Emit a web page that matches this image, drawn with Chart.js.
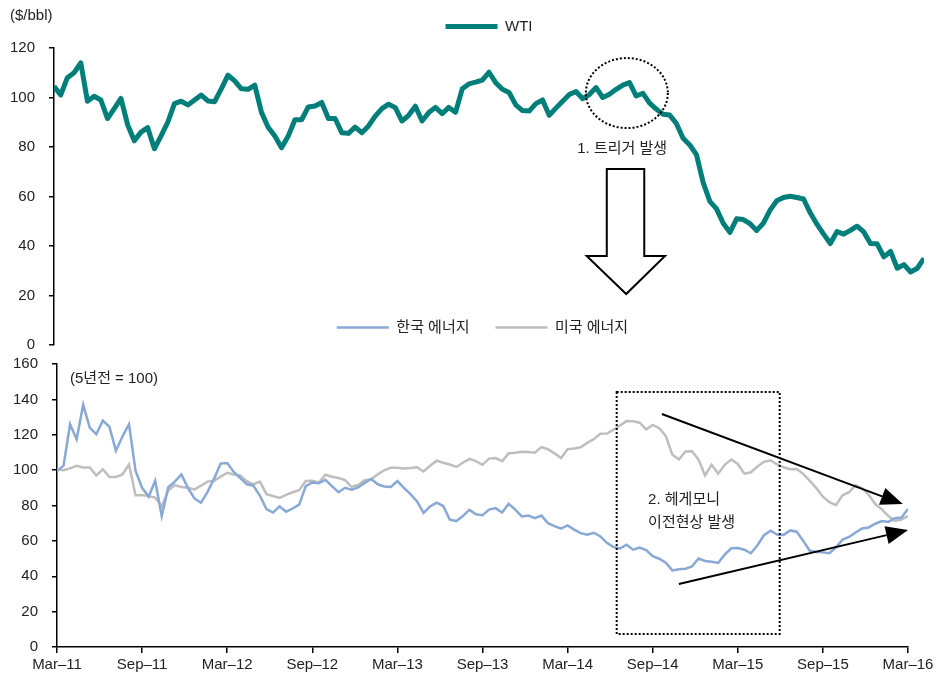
<!DOCTYPE html>
<html>
<head>
<meta charset="utf-8">
<script src="https://cdn.jsdelivr.net/npm/chart.js@4.4.1/dist/chart.umd.min.js"></script>
<style>
    html, body { margin: 0; padding: 0; background: #fff; overflow: hidden; }
    #wrap { position: relative; width: 948px; height: 673px; overflow: hidden; }
    .box { position: absolute; left: 0; width: 948px; }
    #top { top: 0; height: 368px; }
    #bottom { top: 294px; height: 384px; }
</style>
</head>
<body>
<div id="wrap">
    <div class="box" id="top"><canvas id="wtiChart"></canvas></div>
    <div class="box" id="bottom"><canvas id="energyChart"></canvas></div>
</div>
<script>
// half-year tick labels, one every 13 points (bi-weekly data, Mar-11 .. Mar-16)
const dateLabels = ['Mar–11', 'Sep–11', 'Mar–12', 'Sep–12', 'Mar–13', 'Sep–13',
                    'Mar–14', 'Sep–14', 'Mar–15', 'Sep–15', 'Mar–16'];
const stepPerLabel = 13;

const wti = [
    104.5, 101, 108, 110, 114, 98.5, 100.5, 99, 91.5, 95.5,
    99.6, 89, 82.5, 86, 87.8, 79.3, 84.5, 90, 97.5, 98.5,
    97, 99, 101, 98.6, 98.3, 103.5, 109, 106.7, 103.5, 103.3,
    105, 94, 88, 84.4, 79.7, 84.4, 91, 91, 96.2, 96.6,
    98, 91.5, 91.5, 85.8, 85.5, 88, 85.8, 88.5, 92.5, 95.5,
    97.3, 95.9, 90.5, 92.8, 96.5, 90.5, 93.9, 96, 93.5, 96,
    94, 103.5, 105.5, 106.2, 107, 110.2, 106, 103.3, 102, 97,
    94.7, 94.5, 97.5, 99, 92.8, 95.7, 98.5, 101.2, 102.4, 99.5,
    101.2, 104, 100, 101.3, 103.3, 105, 106, 100.6, 101.7, 97.7,
    95.3, 93.2, 92.9, 89.5, 83.5, 80.8, 76.9, 65.6, 58, 55,
    49.2, 45.5, 51, 50.7, 49, 46.3, 49.2, 54.5, 58.3, 59.6,
    60.1, 59.6, 59, 53.4, 48.8, 44.8, 41, 45.8, 44.8, 46.3,
    48, 45.7, 41, 40.9, 35.6, 37.8, 31, 32.5, 29.5, 31, 35
];

const koreaEnergy = [
    99.5, 102.5, 126, 117.5, 137, 124, 120.3, 128, 124.5, 111,
    119, 126, 99.5, 90, 85, 94, 74, 90.3, 93.5, 97.6,
    90, 84, 81.5, 87.7, 95.2, 103.7, 104, 99, 95.5, 92,
    91.3, 85.5, 78, 76, 79.5, 76.5, 78.3, 80.5, 91, 93,
    92.6, 94.5, 91, 87.5, 90, 88.9, 90.2, 92.8, 95, 92,
    90.8, 90.5, 93.8, 90, 86.4, 82.3, 75.8, 79.5, 81.6, 79.7,
    72, 71.2, 74, 77.5, 75, 74.5, 77.7, 78.5, 76, 81,
    77.7, 73.8, 74.3, 72.8, 74.3, 70, 68.3, 66.9, 68.7, 66.4,
    64.4, 63.5, 64.6, 62.5, 58.9, 56.5, 55.7, 57.8, 55, 56.2,
    54.8, 51.3, 49.9, 47.7, 43.3, 44, 44.3, 45.5, 50, 48.6,
    48.2, 47.5, 52.2, 55.8, 56, 55, 53, 57.5, 63.2, 65.8,
    63.6, 63.4, 65.9, 65.2, 60, 54.4, 53.7, 53.5, 53, 56.3,
    60.7, 62.2, 64.7, 67, 67.6, 69.7, 71.2, 70.7, 72.8, 73.2, 78
];

const usEnergy = [
    100.5, 99.9, 101, 102.5, 101.5, 101.5, 97, 100.5, 96.1, 96.1,
    97.6, 103.2, 85.8, 85.8, 85.3, 84.5, 79.5, 88.6, 91.5, 90.5,
    90, 89.1, 91.2, 93.5, 94, 96.3, 98.5, 97.5, 97, 93.8,
    92, 93.5, 86.4, 85.4, 84.3, 86, 87.5, 88.6, 93.9, 94,
    93, 97.4, 96.3, 95.5, 94.4, 90.6, 91.6, 94.3, 94.8, 97.6,
    99.9, 101.4, 101.4, 100.9, 101.2, 101.6, 99.2, 102.5, 105.3, 104.2,
    103.2, 101.8, 104.2, 106.4, 105.1, 103, 106.5, 106.8, 105.1, 109.5,
    109.8, 110.4, 110.2, 109.8, 113, 111.8, 109.5, 106.9, 111.8, 112.2,
    112.9, 115.4, 117.5, 120.6, 120.7, 122.8, 125.2, 127.7, 127.6, 126.8,
    123.1, 125.6, 123.7, 119.3, 108.8, 106, 110.5, 110.7, 106, 97,
    103, 98, 103, 106, 103.5, 98, 98.8, 102, 104.7, 105.6,
    103.2, 101.6, 100.5, 100.6, 97.9, 93.9, 89.8, 85, 81.9, 80.2,
    85.8, 87.5, 91.5, 89.8, 86, 80.8, 77.8, 74, 71.3, 72, 74
];

const FONT = "'Liberation Sans', 'Noto Sans CJK KR', sans-serif";
Chart.defaults.font.family = FONT;
Chart.defaults.font.size = 15;
Chart.defaults.color = '#222';

const toPoints = arr => arr.map((v, i) => ({ x: i, y: v }));

// extra room under the legend
const legendGap = gap => ({
    id: 'legendGap',
    beforeInit(chart) {
        const fit = chart.legend.fit;
        chart.legend.fit = function () {
            fit.call(this);
            this.height += gap;
        };
    }
});

function dotted(ctx) {
    ctx.lineWidth = 2;
    ctx.strokeStyle = '#000';
    ctx.setLineDash([2, 2]);
}

function drawArrow(ctx, x1, y1, x2, y2) {
    const ang = Math.atan2(y2 - y1, x2 - x1);
    const len = 22, half = 9;
    const bx = x2 - Math.cos(ang) * len, by = y2 - Math.sin(ang) * len;
    ctx.setLineDash([]);
    ctx.lineWidth = 2;
    ctx.strokeStyle = '#000';
    ctx.beginPath();
    ctx.moveTo(x1, y1);
    ctx.lineTo(bx, by);
    ctx.stroke();
    ctx.fillStyle = '#000';
    ctx.beginPath();
    ctx.moveTo(x2, y2);
    ctx.lineTo(bx + Math.sin(ang) * half, by - Math.cos(ang) * half);
    ctx.lineTo(bx - Math.sin(ang) * half, by + Math.cos(ang) * half);
    ctx.closePath();
    ctx.fill();
}

const triggerNote = {
    id: 'triggerNote',
    afterDraw(chart) {
        const { ctx, scales: { x, y } } = chart;
        ctx.save();
        ctx.font = '15px ' + FONT;
        ctx.fillStyle = '#222';
        ctx.textBaseline = 'middle';
        ctx.textAlign = 'left';
        ctx.fillText('($/bbl)', 10, 16);

        // dotted circle round the peak
        dotted(ctx);
        ctx.beginPath();
        ctx.ellipse(x.getPixelForValue(85.6), y.getPixelForValue(101.8), 41, 35, 0, 0, Math.PI * 2);
        ctx.stroke();

        ctx.textAlign = 'center';
        ctx.fillText('1. 트리거 발생', x.getPixelForValue(84.9), y.getPixelForValue(79.2));

        // hollow block arrow
        const sl = x.getPixelForValue(82.6), sr = x.getPixelForValue(88.2);
        const hl = x.getPixelForValue(79.6), hr = x.getPixelForValue(91.3);
        const tx = x.getPixelForValue(85.5);
        const top = y.getPixelForValue(71.1), hy = y.getPixelForValue(36), tip = y.getPixelForValue(20.6);
        ctx.setLineDash([]);
        ctx.lineWidth = 2;
        ctx.fillStyle = '#fff';
        ctx.beginPath();
        ctx.moveTo(sl, top);
        ctx.lineTo(sr, top);
        ctx.lineTo(sr, hy);
        ctx.lineTo(hr, hy);
        ctx.lineTo(tx, tip);
        ctx.lineTo(hl, hy);
        ctx.lineTo(sl, hy);
        ctx.closePath();
        ctx.fill();
        ctx.stroke();
        ctx.restore();
    }
};

const hegemonyNote = {
    id: 'hegemonyNote',
    afterDraw(chart) {
        const { ctx, chartArea, scales: { x, y } } = chart;
        ctx.save();
        ctx.font = '15px ' + FONT;
        ctx.fillStyle = '#222';
        ctx.textBaseline = 'middle';
        ctx.textAlign = 'left';
        ctx.fillText('(5년전 = 100)', chartArea.left + 13, y.getPixelForValue(151.5));

        // dotted box
        dotted(ctx);
        const l = x.getPixelForValue(85.5), r = x.getPixelForValue(110.4);
        const t = y.getPixelForValue(144.1), b = y.getPixelForValue(7.3);
        ctx.strokeRect(l, t, r - l, b - t);

        ctx.fillText('2. 헤게모니', x.getPixelForValue(90.3), y.getPixelForValue(83.1));
        ctx.fillText('이전현상 발생', x.getPixelForValue(90.3), y.getPixelForValue(70.1));

        drawArrow(ctx, x.getPixelForValue(92.4), y.getPixelForValue(131.7),
                       x.getPixelForValue(129.2), y.getPixelForValue(80.8));
        drawArrow(ctx, x.getPixelForValue(95), y.getPixelForValue(35.6),
                       x.getPixelForValue(130), y.getPixelForValue(66.1));
        ctx.restore();
    }
};

const axisGrid = len => ({
    drawOnChartArea: false,
    drawTicks: true,
    tickLength: len,
    color: '#000',
    lineWidth: 1.5
});
const axisBorder = { color: '#000', width: 1.5 };

new Chart(document.getElementById('wtiChart').getContext('2d'), {
    type: 'line',
    data: {
        datasets: [{
            label: 'WTI',
            data: toPoints(wti),
            borderColor: '#007E7A',
            backgroundColor: '#007E7A',
            borderWidth: 5,
            borderJoinStyle: 'round',
            pointRadius: 0,
            pointStyle: 'line',
            tension: 0
        }]
    },
    options: {
        responsive: true,
        maintainAspectRatio: false,
        animation: false,
        layout: { padding: { top: 9, right: 24, bottom: 8, left: 0 } },
        plugins: {
            legend: {
                position: 'top',
                fullSize: false,
                labels: { usePointStyle: true, pointStyleWidth: 52, padding: 10, color: '#222' }
            },
            tooltip: { enabled: false }
        },
        scales: {
            x: { type: 'linear', min: 0, max: 130, display: false },
            y: {
                min: 0,
                max: 120,
                ticks: { stepSize: 20, padding: 14 },
                grid: axisGrid(5),
                border: axisBorder,
                afterFit: s => { s.width = 54; }
            }
        }
    },
    plugins: [legendGap(4), triggerNote]
});

new Chart(document.getElementById('energyChart').getContext('2d'), {
    type: 'line',
    data: {
        datasets: [{
            label: '한국 에너지',
            data: toPoints(koreaEnergy),
            borderColor: '#88A8D6',
            backgroundColor: '#88A8D6',
            borderWidth: 2.5,
            pointRadius: 0,
            pointStyle: 'line',
            tension: 0
        }, {
            label: '미국 에너지',
            data: toPoints(usEnergy),
            borderColor: '#BEBEBE',
            backgroundColor: '#BEBEBE',
            borderWidth: 2.5,
            pointRadius: 0,
            pointStyle: 'line',
            tension: 0
        }]
    },
    options: {
        responsive: true,
        maintainAspectRatio: false,
        animation: false,
        layout: { padding: { top: 0, right: 40, bottom: 1, left: 0 } },
        plugins: {
            legend: {
                position: 'top',
                fullSize: false,
                labels: { usePointStyle: true, pointStyleWidth: 52, padding: 26, color: '#222' }
            },
            tooltip: { enabled: false }
        },
        scales: {
            x: {
                type: 'linear',
                min: 0,
                max: 130,
                ticks: {
                    stepSize: stepPerLabel,
                    autoSkip: false,
                    maxRotation: 0,
                    padding: 3,
                    callback: v => dateLabels[v / stepPerLabel]
                },
                grid: axisGrid(6),
                border: axisBorder
            },
            y: {
                min: 0,
                max: 160,
                ticks: { stepSize: 20, padding: 14 },
                grid: axisGrid(5),
                border: axisBorder,
                afterFit: s => { s.width = 57; }
            }
        }
    },
    plugins: [legendGap(19), hegemonyNote]
});
</script>
</body>
</html>
